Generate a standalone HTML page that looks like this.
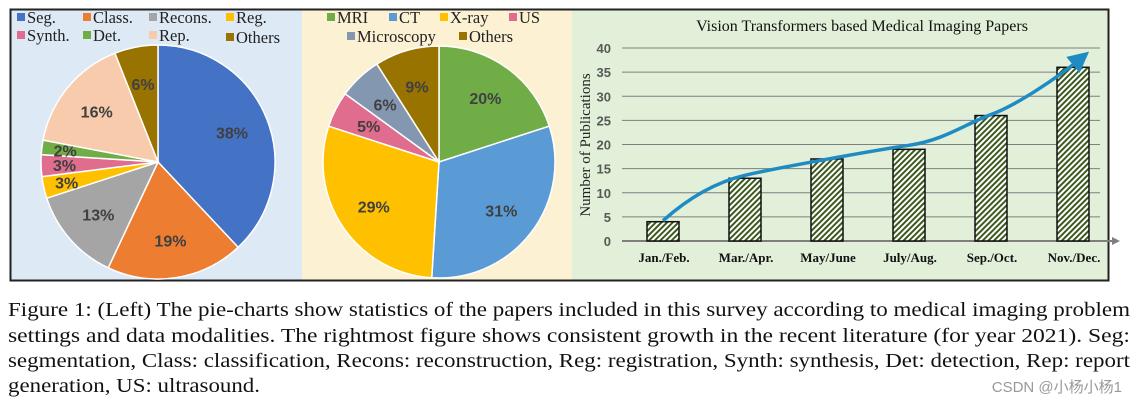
<!DOCTYPE html>
<html><head><meta charset="utf-8"><style>
html,body{margin:0;padding:0;background:#fff;width:1138px;height:408px;overflow:hidden}
svg{display:block}
</style></head><body>
<svg id="s" width="1138" height="408" xmlns="http://www.w3.org/2000/svg">
<defs>
<pattern id="hatch" patternUnits="userSpaceOnUse" width="4" height="4" patternTransform="rotate(45)">
<rect width="4" height="4" fill="#fff"/><rect width="2" height="4" fill="#3d5a1e"/></pattern>
<marker id="arr" markerWidth="6" markerHeight="6" refX="3" refY="3" orient="auto"><path d="M0,0 L6,3 L0,6 Z" fill="#1e8bc3"/></marker>
</defs>
<rect x="11" y="10" width="291" height="270" fill="#dde9f5"/>
<rect x="302" y="10" width="270" height="270" fill="#fdf1d3"/>
<rect x="572" y="10" width="536" height="270" fill="#e2efd9"/>
<rect x="10.5" y="9.5" width="1098" height="271" fill="none" stroke="#222" stroke-width="2"/>
<g id="pie1"></g>
<g id="pie2"></g>
<g id="bars"></g>
<g font-family="Liberation Serif, serif" font-size="19.5" fill="#111">
<text x="8" y="316" textLength="1122" lengthAdjust="spacingAndGlyphs">Figure 1: (Left) The pie-charts show statistics of the papers included in this survey according to medical imaging problem</text>
<text x="8" y="342" textLength="1122" lengthAdjust="spacingAndGlyphs">settings and data modalities. The rightmost figure shows consistent growth in the recent literature (for year 2021). Seg:</text>
<text x="8" y="367" textLength="1122" lengthAdjust="spacingAndGlyphs">segmentation, Class: classification, Recons: reconstruction, Reg: registration, Synth: synthesis, Det: detection, Rep: report</text>
<text x="8" y="392" textLength="252" lengthAdjust="spacingAndGlyphs">generation, US: ultrasound.</text>
</g>
<text x="1122" y="392" text-anchor="end" font-family="Liberation Sans, Noto Sans CJK SC, sans-serif" font-size="15" fill="#999">CSDN @小杨小杨1</text>
</svg>
<script>
const NS="http://www.w3.org/2000/svg";
const taskLabels=["Seg.","Class.","Recons.","Reg.","Synth.","Det.","Rep.","Others"];
const taskValues=[38,19,13,3,3,2,16,6];
const taskColors=["#4472c4","#ed7d31","#a5a5a5","#ffc000","#e06c8e","#70ad47","#f8cbad","#997300"];
const modLabels=["MRI","CT","X-ray","US","Microscopy","Others"];
const modValues=[20,31,29,5,6,9];
const modColors=["#70ad47","#5b9bd5","#ffc000","#e06c8e","#8497b0","#997300"];
const barCats=["Jan./Feb.","Mar./Apr.","May/June","July/Aug.","Sep./Oct.","Nov./Dec."];
const barValues=[4,13,17,19,26,36];
const yTicks=[0,5,10,15,20,25,30,35,40];
function el(tag,attrs,parent,txt){const e=document.createElementNS(NS,tag);for(const k in attrs)e.setAttribute(k,attrs[k]);if(txt!==undefined)e.textContent=txt;parent.appendChild(e);return e;}
function pie(g,vals,cols,cx,cy,r){
  const tot=vals.reduce((a,b)=>a+b,0);let a0=-Math.PI/2;
  vals.forEach((v,i)=>{
    const a1=a0+v/tot*2*Math.PI;
    const x0=cx+r*Math.cos(a0),y0=cy+r*Math.sin(a0),x1=cx+r*Math.cos(a1),y1=cy+r*Math.sin(a1);
    const p=el("path",{d:`M${cx},${cy} L${x0},${y0} A${r},${r} 0 ${a1-a0>Math.PI?1:0} 1 ${x1},${y1} Z`,fill:cols[i],stroke:"#fff","stroke-width":1.5},g);
    
    
    const am=(a0+a1)/2,lr=r*(v<5?0.8:0.68);
    const t=el("text",{x:cx+lr*Math.cos(am),y:cy+lr*Math.sin(am)+6,"text-anchor":"middle","font-family":"Liberation Sans, sans-serif","font-weight":"bold","font-size":16,fill:"#404040"},g,v+"%");
    
    
    a0=a1;
  });
}
function legend(g,labels,cols,pos){
  labels.forEach((l,i)=>{
    const [x,y]=pos[i];
    const r=el("rect",{x:x,y:y-10,width:8,height:8,fill:cols[i]},g);
    
    
    const t=el("text",{x:x+10,y:y,"font-family":"Liberation Serif, serif","font-size":16.5,fill:"#222"},g,l);
    
    
  });
}
const g1=document.getElementById("pie1"),g2=document.getElementById("pie2"),gb=document.getElementById("bars");
pie(g1,taskValues,taskColors,158,162,117);
legend(g1,taskLabels,taskColors,[[17,23],[83,23],[149,23],[226,23],[17,41],[83,41],[149,41],[226,43]]);
pie(g2,modValues,modColors,439,162,116);
legend(g2,modLabels,modColors,[[327,23],[389,23],[440,23],[509,23],[347,42],[459,42]]);
// bar chart
const x0=622,x1=1100,yB=241,yT=48,yMax=40,band=82;
const ys=v=>yB-(v/yMax)*(yB-yT);
const xc=i=>x0+band*(i+0.5);
yTicks.forEach(v=>{
  const ln=el("line",{x1:x0,x2:x1,y1:ys(v),y2:ys(v),stroke:"#7f7f7f","stroke-width":1},gb);
  
  
  const t=el("text",{x:611,y:ys(v)+5,"text-anchor":"end","font-family":"Liberation Sans, sans-serif","font-weight":"bold","font-size":13,fill:"#595959"},gb,v);
  
  
});
const ax=el("line",{x1:x0,x2:1118,y1:yB,y2:yB,stroke:"#7f7f7f","stroke-width":2},gb);


el("path",{d:`M1112,${yB-4} L1120,${yB} L1112,${yB+4} Z`,fill:"#7f7f7f"},gb);
barValues.forEach((v,i)=>{
  const b=el("rect",{x:xc(i)-16,y:ys(v),width:32,height:yB-ys(v),fill:"url(#hatch)",stroke:"#111","stroke-width":1.5},gb);
  
  
  const t=el("text",{x:xc(i)+1,y:262,"text-anchor":"middle","font-family":"Liberation Serif, serif","font-weight":"bold","font-size":13,fill:"#111"},gb,barCats[i]);
  
  
});
// trend arrow through bar tops
const pts=barValues.map((v,i)=>[xc(i),ys(v)]);
let d=`M${pts[0][0]},${pts[0][1]-1}`;
d+=` C${pts[0][0]+25},${pts[1][1]+20} ${pts[1][0]-30},${pts[1][1]+4} ${pts[1][0]},${pts[1][1]-3}`;
d+=` S${pts[3][0]-35},${pts[3][1]+1} ${pts[3][0]},${pts[3][1]-4}`;
d+=` S${pts[4][0]-25},${pts[4][1]+8} ${pts[4][0]},${pts[4][1]-1}`;
d+=` S${pts[5][0]-15},${pts[5][1]+10} ${pts[5][0]+8},${pts[5][1]-9}`;
const tr=el("path",{d:d,fill:"none",stroke:"#1e8bc3","stroke-width":3.5,"marker-end":"url(#arr)"},gb);


const tt=el("text",{x:862,y:31,"text-anchor":"middle","font-family":"Liberation Serif, serif","font-size":16,fill:"#111"},gb,"Vision Transformers based Medical Imaging Papers");


const yt=el("text",{x:0,y:0,transform:"translate(590,145) rotate(-90)","text-anchor":"middle","font-family":"Liberation Serif, serif","font-size":15,fill:"#222"},gb,"Number of Publications");


</script>
</body></html>
